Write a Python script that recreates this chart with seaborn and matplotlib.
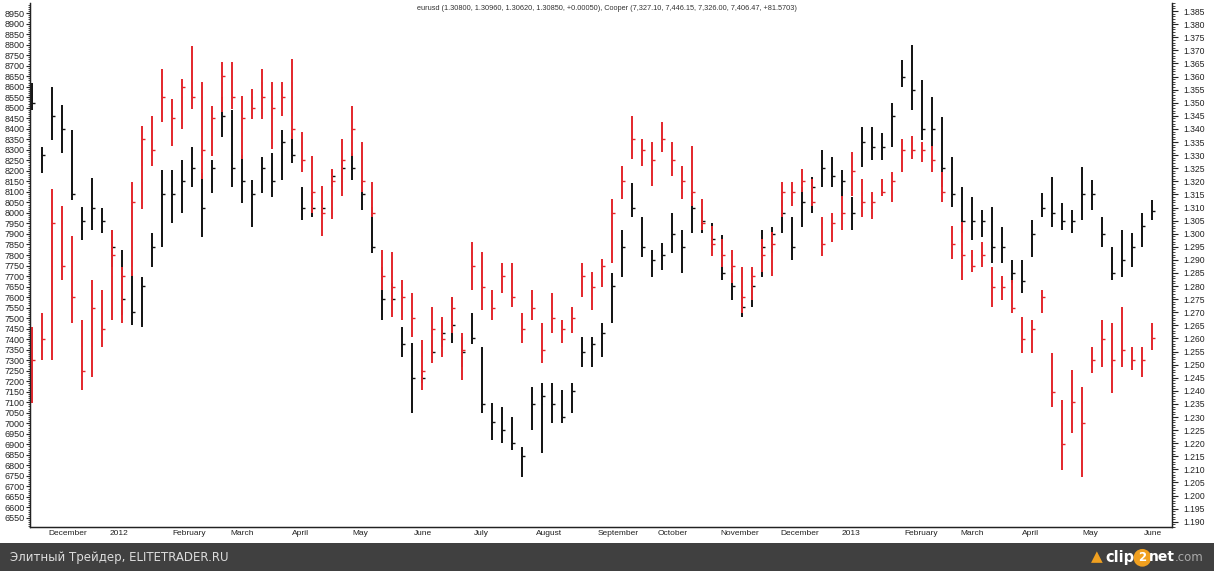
import matplotlib
matplotlib.use("Agg")
import matplotlib.pyplot as plt
import matplotlib.dates as mdates
from matplotlib.patches import Rectangle
from matplotlib.ticker import MultipleLocator, FuncFormatter
import pandas as pd
import seaborn as sns


# ---------------------------------------------------------
# Data (one bar per ~5 calendar days)
# ---------------------------------------------------------

start_date = "2011-11-23"

cu_high = [7460, 7526, 8112, 8031, 7888, 7493, 7683, 7636, 7921, 7745,
           8145, 8412, 8460, 8683, 8540, 8636, 8793, 8621, 8507, 8717,
           8717, 8555, 8588, 8683, 8621, 8621, 8731, 8383, 8269, 8126,
           8207, 8350, 8507, 8336, 8145, 7826, 7812, 7683, 7621, 7398,
           7555, 7507, 7602, 7431, 7860, 7812, 7636, 7764, 7764, 7526,
           7636, 7479, 7621, 7493, 7555, 7764, 7717, 7779, 8064, 8221,
           8460, 8350, 8336, 8431, 8336, 8221, 8317, 8064, 7936, 7874,
           7826, 7745, 7745, 7874, 7907, 8145, 8145, 8207, 8160, 7983,
           8002, 8079, 8288, 8160, 8098, 8160, 8193, 8350, 8364, 8336,
           8317, 8193, 7936, 7955, 7826, 7860, 7745, 7698, 7683, 7507,
           7493, 7636, 7336, 7112, 7255, 7174, 7364, 7493, 7479, 7555,
           7364, 7364, 7479]

cu_low = [7098, 7302, 7302, 7683, 7479, 7160, 7221, 7364, 7493, 7479,
          7698, 8017, 8221, 8431, 8317, 8398, 8493, 8160, 8269, 8479,
          8493, 8255, 8445, 8445, 8302, 8460, 8350, 8193, 8002, 7888,
          7969, 8079, 8269, 8098, 7983, 7636, 7507, 7493, 7412, 7160,
          7288, 7317, 7431, 7207, 7636, 7540, 7493, 7621, 7555, 7383,
          7493, 7288, 7431, 7383, 7431, 7602, 7540, 7650, 7764, 8064,
          8255, 8221, 8126, 8288, 8174, 8064, 8031, 7921, 7793, 7745,
          7669, 7526, 7588, 7717, 7698, 7983, 8031, 8098, 8031, 7793,
          7860, 7921, 8079, 7983, 7969, 8079, 8050, 8193, 8255, 8240,
          8193, 8050, 7779, 7683, 7717, 7745, 7555, 7588, 7526, 7336,
          7336, 7526, 7079, 6779, 6955, 6745, 7240, 7269, 7145, 7269,
          7255, 7221, 7350]

cu_close = [7300, 7400, 7950, 7750, 7600, 7250, 7550, 7450, 7800, 7700,
            8050, 8350, 8300, 8550, 8450, 8600, 8550, 8300, 8450, 8650,
            8550, 8450, 8500, 8550, 8500, 8550, 8400, 8250, 8100, 8000,
            8150, 8250, 8400, 8150, 8000, 7700, 7650, 7600, 7500, 7250,
            7450, 7400, 7550, 7350, 7750, 7650, 7550, 7700, 7600, 7450,
            7550, 7350, 7500, 7450, 7500, 7700, 7650, 7750, 8000, 8150,
            8350, 8300, 8250, 8350, 8250, 8150, 8100, 7950, 7850, 7800,
            7750, 7600, 7700, 7800, 7850, 8100, 8100, 8150, 8050, 7850,
            7950, 8000, 8200, 8050, 8050, 8100, 8150, 8300, 8300, 8300,
            8250, 8100, 7850, 7800, 7750, 7800, 7650, 7650, 7550, 7400,
            7450, 7600, 7150, 6900, 7100, 7000, 7300, 7400, 7300, 7350,
            7300, 7300, 7406]

fx_high = [1.3575, 1.3331, 1.3560, 1.3491, 1.3396, 1.3102, 1.3213, 1.3098, 1.3014, 1.2938,
           1.2861, 1.2835, 1.3003, 1.3243, 1.3243, 1.3281, 1.3331, 1.3232, 1.3281, 1.3522,
           1.3472, 1.3300, 1.3205, 1.3293, 1.3308, 1.3396, 1.3384, 1.3178, 1.3155, 1.3129,
           1.3243, 1.3281, 1.3308, 1.3205, 1.3102, 1.2873, 1.2812, 1.2644, 1.2583, 1.2480,
           1.2594, 1.2671, 1.2758, 1.2606, 1.2697, 1.2567, 1.2354, 1.2339, 1.2300, 1.2186,
           1.2415, 1.2430, 1.2430, 1.2403, 1.2430, 1.2606, 1.2606, 1.2659, 1.2850, 1.3014,
           1.3193, 1.3064, 1.2938, 1.2964, 1.3079, 1.3014, 1.3155, 1.3090, 1.3041, 1.2995,
           1.2850, 1.2785, 1.2823, 1.3014, 1.3026, 1.3129, 1.3064, 1.3178, 1.3216, 1.3319,
           1.3293, 1.3243, 1.3140, 1.3407, 1.3407, 1.3384, 1.3499, 1.3663, 1.3720, 1.3587,
           1.3522, 1.3445, 1.3293, 1.3178, 1.3140, 1.3090, 1.3102, 1.3026, 1.2900, 1.2900,
           1.3052, 1.3155, 1.3216, 1.3117, 1.3090, 1.3255, 1.3205, 1.3064, 1.2949, 1.3014,
           1.3003, 1.3079, 1.3129]

fx_low = [1.3472, 1.3232, 1.3358, 1.3308, 1.3129, 1.2976, 1.3014, 1.3003, 1.2873, 1.2690,
          1.2651, 1.2644, 1.2873, 1.2949, 1.3041, 1.3079, 1.3178, 1.2987, 1.3155, 1.3369,
          1.3178, 1.3117, 1.3026, 1.3155, 1.3140, 1.3205, 1.3270, 1.3052, 1.3064, 1.3079,
          1.3178, 1.3167, 1.3205, 1.3090, 1.2926, 1.2671, 1.2709, 1.2529, 1.2316, 1.2430,
          1.2518, 1.2567, 1.2583, 1.2491, 1.2580, 1.2316, 1.2213, 1.2201, 1.2174, 1.2071,
          1.2251, 1.2163, 1.2277, 1.2277, 1.2316, 1.2491, 1.2491, 1.2529, 1.2659, 1.2835,
          1.3064, 1.2911, 1.2835, 1.2861, 1.2926, 1.2850, 1.3003, 1.3003, 1.2938, 1.2823,
          1.2747, 1.2682, 1.2720, 1.2835, 1.2926, 1.3003, 1.2900, 1.3026, 1.3079, 1.3178,
          1.3178, 1.3140, 1.3014, 1.3255, 1.3281, 1.3281, 1.3331, 1.3560, 1.3472, 1.3358,
          1.3331, 1.3178, 1.3102, 1.3003, 1.2976, 1.2987, 1.2888, 1.2888, 1.2812, 1.2774,
          1.2911, 1.3064, 1.3026, 1.3014, 1.3003, 1.3052, 1.3090, 1.2949, 1.2823, 1.2835,
          1.2873, 1.2949, 1.3052]

fx_close = [1.3500, 1.3300, 1.3450, 1.3400, 1.3150, 1.3050, 1.3100, 1.3050, 1.2950, 1.2750,
            1.2700, 1.2800, 1.2950, 1.3150, 1.3150, 1.3200, 1.3250, 1.3100, 1.3250, 1.3450,
            1.3250, 1.3200, 1.3150, 1.3250, 1.3200, 1.3350, 1.3300, 1.3100, 1.3100, 1.3100,
            1.3220, 1.3250, 1.3250, 1.3150, 1.2950, 1.2750, 1.2750, 1.2580, 1.2450, 1.2450,
            1.2550, 1.2620, 1.2650, 1.2550, 1.2600, 1.2350, 1.2280, 1.2250, 1.2200, 1.2150,
            1.2350, 1.2380, 1.2350, 1.2300, 1.2400, 1.2550, 1.2580, 1.2620, 1.2800, 1.2950,
            1.3100, 1.2950, 1.2900, 1.2920, 1.3000, 1.2950, 1.3100, 1.3050, 1.2980, 1.2850,
            1.2800, 1.2720, 1.2800, 1.2950, 1.3000, 1.3080, 1.2950, 1.3120, 1.3180, 1.3250,
            1.3220, 1.3200, 1.3080, 1.3350, 1.3330, 1.3330, 1.3450, 1.3600, 1.3550, 1.3400,
            1.3400, 1.3250, 1.3150, 1.3050, 1.3050, 1.3050, 1.2950, 1.2950, 1.2850, 1.2820,
            1.3000, 1.3100, 1.3080, 1.3050, 1.3050, 1.3150, 1.3150, 1.3000, 1.2850, 1.2900,
            1.2950, 1.3030, 1.3085]

title_text = ("eurusd (1.30800, 1.30960, 1.30620, 1.30850, +0.00050), "
              "Cooper (7,327.10, 7,446.15, 7,326.00, 7,406.47, +81.5703)")


# ---------------------------------------------------------
# Frames
# ---------------------------------------------------------

dates = pd.date_range(start_date, periods=len(cu_high), freq="5D")

copper = pd.DataFrame({"date": dates, "high": cu_high,
                       "low": cu_low, "close": cu_close})
eurusd = pd.DataFrame({"date": dates, "high": fx_high,
                       "low": fx_low, "close": fx_close})


# ---------------------------------------------------------
# Plot
# ---------------------------------------------------------

sns.set_style("white")
plt.rcParams["font.family"] = ["Liberation Sans", "DejaVu Sans"]

fig = plt.figure(figsize=(12.14, 5.71), dpi=100)
fig.patch.set_facecolor("white")

ax = fig.add_axes([30 / 1214, 44 / 571, 1142 / 1214, 524 / 571])
ax2 = ax.twinx()


def draw_bars(axis, df, color):

    axis.vlines(df["date"], df["low"], df["high"], color=color, linewidth=1.4)

    axis.hlines(df["close"], df["date"],
                df["date"] + pd.Timedelta(days=1.7),
                color=color, linewidth=1.0)


draw_bars(ax2, eurusd, "#111111")
draw_bars(ax, copper, "#e3262b")

# copper drawn on top of eurusd
ax.set_zorder(ax2.get_zorder() + 1)
ax.patch.set_visible(False)

ax.set_xlim(pd.Timestamp("2011-11-22"), pd.Timestamp("2013-06-15"))
ax.set_ylim(6507, 8998)
ax2.set_ylim(1.1880, 1.3881)

# left axis
ax.yaxis.set_major_locator(MultipleLocator(50))
ax.yaxis.set_minor_locator(MultipleLocator(10))
ax.tick_params(axis="y", which="major", direction="out", length=3,
               width=0.8, labelsize=6.5, pad=1, labelcolor="#222222")
ax.tick_params(axis="y", which="minor", direction="out", length=1.5, width=0.6)
ax.yaxis.set_major_formatter(FuncFormatter(lambda v, p: f"{v:.0f}"))

# right axis
ax2.yaxis.set_major_locator(MultipleLocator(0.005))
ax2.yaxis.set_minor_locator(MultipleLocator(0.001))
ax2.tick_params(axis="y", which="major", direction="out", length=4,
                width=0.8, labelsize=6.2, pad=4, labelcolor="#222222")
ax2.tick_params(axis="y", which="minor", direction="out", length=2, width=0.6)
ax2.yaxis.set_major_formatter(FuncFormatter(lambda v, p: f"{v:.3f}"))


# month axis
def month_label(x, pos):

    d = mdates.num2date(x)

    return str(d.year) if d.month == 1 else d.strftime("%B")


ax.xaxis.set_major_locator(mdates.MonthLocator())
ax.xaxis.set_minor_locator(mdates.WeekdayLocator(byweekday=mdates.MO))
ax.xaxis.set_major_formatter(FuncFormatter(month_label))
ax.tick_params(axis="x", which="major", direction="out", length=10,
               width=0.8, labelsize=6, pad=-8, labelcolor="#222222")
ax.tick_params(axis="x", which="minor", direction="out", length=3, width=0.7)
plt.setp(ax.get_xticklabels(), ha="left")

for a in (ax, ax2):
    for side in ("left", "right", "bottom"):
        a.spines[side].set_color("#222222")
        a.spines[side].set_linewidth(0.9)
    a.spines["top"].set_visible(False)
    a.grid(False)

fig.text(0.5, 1 - 8 / 571, title_text, ha="center", va="center",
         fontsize=5.3, color="#333333")

# bottom band
fig.add_artist(Rectangle((0, 0), 1, 28 / 571, transform=fig.transFigure,
                         facecolor="#404040", edgecolor="none"))

fig.text(10 / 1214, 14 / 571, "Элитный Трейдер, ELITETRADER.RU",
         ha="left", va="center", fontsize=8.5, color="#dddddd",
         family=["DejaVu Sans"])

# clip2net logo, pieces chained one after the other
fig.text(1097 / 1214, 14 / 571, "▲", ha="center", va="center",
         fontsize=11, color="#f0a020", family=["DejaVu Sans"])
t_clip = fig.text(1105 / 1214, 9 / 571, "clip", ha="left", va="baseline",
                  fontsize=10.5, color="white", weight="bold",
                  family=["DejaVu Sans"])
t_two = ax.annotate("2", xy=(1, 0), xycoords=t_clip, xytext=(3, 0.5),
                    textcoords="offset points", ha="left", va="bottom",
                    fontsize=8.5, color="white", weight="bold",
                    family=["DejaVu Sans"], annotation_clip=False,
                    bbox=dict(boxstyle="circle,pad=0.2", fc="#f0a020", ec="none"))
t_net = ax.annotate("net", xy=(1, 0), xycoords=t_two, xytext=(1.5, 0),
                    textcoords="offset points", ha="left", va="bottom",
                    fontsize=10, color="white", weight="bold",
                    family=["DejaVu Sans"], annotation_clip=False)
ax.annotate(".com", xy=(1, 0), xycoords=t_net, xytext=(0, 0),
            textcoords="offset points", ha="left", va="bottom",
            fontsize=8.5, color="#aaaaaa", family=["DejaVu Sans"],
            annotation_clip=False)

fig.savefig("out.png", dpi=100)
